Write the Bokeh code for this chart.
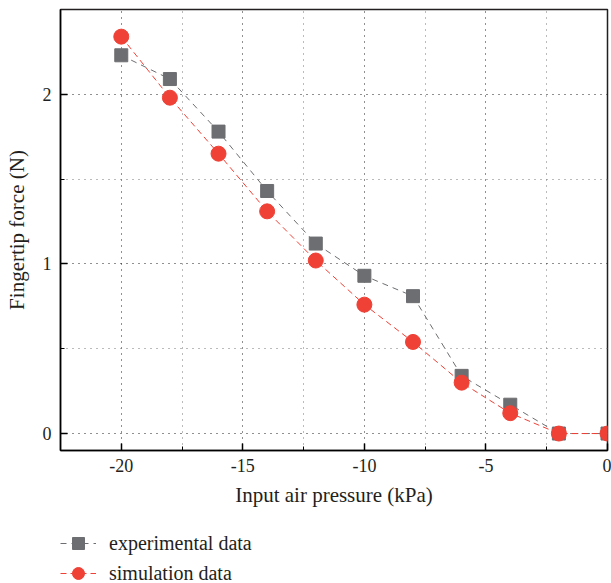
from bokeh.plotting import figure
from bokeh.models import FixedTicker, Range1d, Legend, LegendItem
from bokeh.layouts import column
from bokeh.embed import file_html
from bokeh.resources import INLINE

pressure = [-20, -18, -16, -14, -12, -10, -8, -6, -4, -2, 0]
experimental = [2.23, 2.09, 1.78, 1.43, 1.12, 0.93, 0.81, 0.34, 0.17, 0.0, 0.0]
simulation = [2.34, 1.98, 1.65, 1.31, 1.02, 0.76, 0.54, 0.30, 0.12, 0.0, 0.0]
x_ticks = [-20, -15, -10, -5, 0]
x_minor = [-17.5, -12.5, -7.5, -2.5]
y_ticks = [0, 1, 2]
y_minor = [0.5, 1.5]
series_names = ["experimental data", "simulation data"]

GRAY = "#6d6e71"
RED = "#ef4136"
FONT = "Liberation Serif"
INK = "#231f20"

p = figure(width=611, height=520, output_backend="svg", toolbar_location=None,
           x_range=Range1d(-22.5, 0), y_range=Range1d(-0.1, 2.5),
           min_border_left=60, min_border_right=4, min_border_top=9, min_border_bottom=70)

p.line(pressure, experimental, line_color=GRAY, line_width=1, line_dash="6 5")
p.scatter(pressure, experimental, marker="square", size=13, fill_color=GRAY, line_color=GRAY)
p.line(pressure, simulation, line_color=RED, line_width=1, line_dash="6 4")
p.scatter(pressure, simulation, marker="circle", size=15, fill_color=RED, line_color=RED)

for ax, t, m in ((p.xaxis[0], x_ticks, x_minor), (p.yaxis[0], y_ticks, y_minor)):
    ax.ticker = FixedTicker(ticks=t, minor_ticks=m)
    ax.major_tick_in = 7
    ax.major_tick_out = 0
    ax.minor_tick_in = 4
    ax.minor_tick_out = 0
    ax.axis_line_width = 1.5
    ax.major_tick_line_width = 1.5
    ax.major_label_text_font = FONT
    ax.major_label_text_font_size = "18px"
    ax.major_label_text_color = INK
    ax.axis_label_text_font = FONT
    ax.axis_label_text_font_size = "21px"
    ax.axis_label_text_font_style = "normal"
    ax.axis_label_text_color = INK
    ax.major_label_overrides = {v: str(v) for v in t}

p.xaxis.axis_label = "Input air pressure (kPa)"
p.yaxis.axis_label = "Fingertip force (N)"
p.xaxis.major_label_standoff = 8
p.xaxis.axis_label_standoff = 8
p.yaxis.major_label_standoff = 9
p.yaxis.axis_label_standoff = 11
p.yaxis.major_label_orientation = "horizontal"

p.xgrid.ticker = FixedTicker(ticks=x_ticks, minor_ticks=x_minor)
p.ygrid.ticker = FixedTicker(ticks=y_ticks, minor_ticks=y_minor)
for g in (p.xgrid[0], p.ygrid[0]):
    g.grid_line_color = INK
    g.grid_line_dash = "1 5"
    g.grid_line_width = 1
    g.minor_grid_line_color = "#777777"
    g.minor_grid_line_dash = "1 5"
    g.minor_grid_line_width = 1

p.outline_line_color = INK
p.outline_line_width = 1.5
p.background_fill_color = "white"
p.border_fill_color = "white"

# legend strip below the chart (its ranges keep the series out of view;
# only the legend samples show)
lg = figure(width=611, height=63, output_backend="svg", toolbar_location=None,
            x_range=Range1d(100, 101), y_range=Range1d(100, 101),
            x_axis_location=None, y_axis_location=None, min_border=0)
lg.grid.visible = False
lg.outline_line_color = None
lg.border_fill_color = "white"
lg.background_fill_color = "white"

e_line = lg.line(pressure, experimental, line_color=GRAY, line_width=1, line_dash="6 5")
e_mark = lg.scatter(pressure, experimental, marker="square", fill_color=GRAY, line_color=GRAY)
s_line = lg.line(pressure, simulation, line_color=RED, line_width=1, line_dash="6 4")
s_mark = lg.scatter(pressure, simulation, marker="circle", fill_color=RED, line_color=RED)

legend = Legend(items=[LegendItem(label=series_names[0], renderers=[e_line, e_mark]),
                       LegendItem(label=series_names[1], renderers=[s_line, s_mark])],
                orientation="vertical", location=(0, -5),
                label_text_font=FONT, label_text_font_size="20px", label_text_color=INK,
                glyph_width=36, glyph_height=30, label_height=30, spacing=-7,
                padding=0, margin=0, border_line_color=None, background_fill_alpha=0,
                label_standoff=13)
lg.add_layout(legend, "center")

layout = column(p, lg, spacing=0)
open("out.html", "w").write(file_html(layout, INLINE))
